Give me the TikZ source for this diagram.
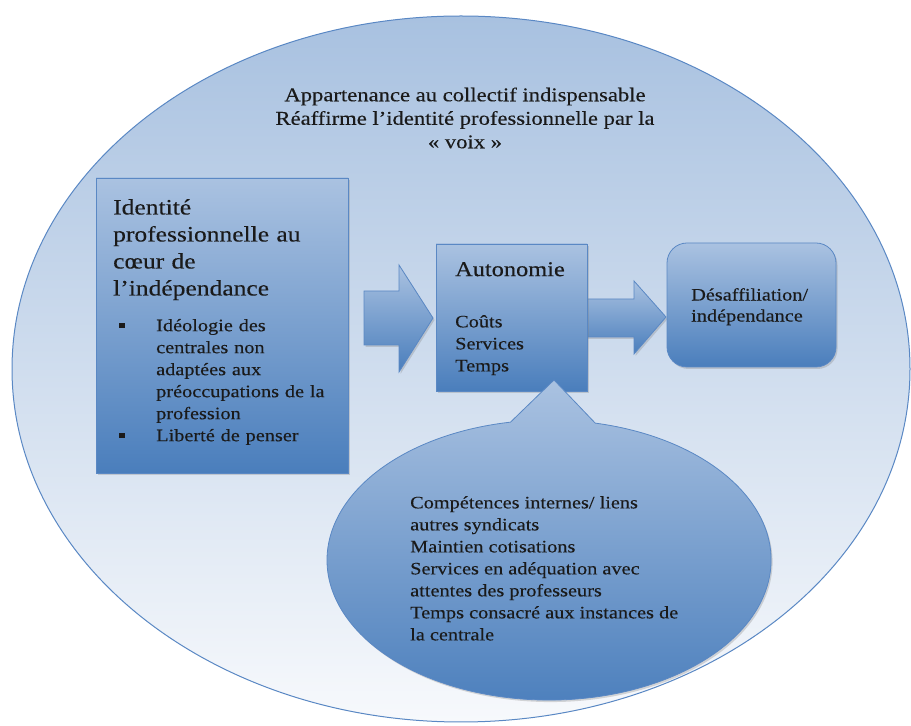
\documentclass[tikz,border=0pt]{standalone}
\usepackage{fontspec}
\setmainfont{Liberation Serif}[FakeStretch=1.16,FakeBold=0.25]
\usetikzlibrary{shapes.geometric,shadows}
\definecolor{edge}{HTML}{5A88C4}
\definecolor{boxtop}{HTML}{AAC2E1}
\definecolor{boxbot}{HTML}{4A7EBC}
\definecolor{bigtop}{HTML}{A8C1E0}
\definecolor{bigbot}{HTML}{F7F9FC}
\definecolor{ink}{HTML}{1A1A1A}
\newcommand\bitem[1]{\par\hangindent=37pt\hangafter=1\noindent\makebox[37pt][l]{\raisebox{3pt}{\rule{5.5pt}{5.5pt}}}#1}
\tikzset{
  bluebox/.style={draw=edge, line width=0.8pt, top color=boxtop, bottom color=boxbot,
    drop shadow={opacity=0.3, shadow xshift=1.5pt, shadow yshift=-2pt}},
  bigshape/.style={draw=edge, line width=1pt, top color=bigtop, bottom color=bigbot},
  txt/.style={text=ink, inner sep=0pt, align=left, anchor=north west}
}
\begin{document}
\begin{tikzpicture}[x=1pt,y=1pt]
\useasboundingbox (0,0) rectangle (911,726);
% big ellipse
\node[ellipse, bigshape, minimum width=898pt, minimum height=706pt, inner sep=0pt] (big) at (461,357) {};
\node[text=ink, inner sep=0pt, align=center, font=\fontsize{19.5}{23.5}\selectfont] (toptext) at (465,608)
  {Appartenance au collectif indispensable\\Réaffirme l’identité professionnelle par la\\« voix »};
% left box
\node[rectangle, bluebox, minimum width=252pt, minimum height=295pt, inner sep=0pt] (ident) at (222,400.5) {};
\node[txt, text width=230pt, font=\fontsize{22}{27}\selectfont] (identtitle) at (113,527)
  {Identité\\professionnelle au\\cœur de\\l’indépendance};
\node[inner sep=0pt, anchor=north west, text=ink, text width=225pt, font=\fontsize{17.5}{22}\selectfont] (identlist) at (119,417)
  {\raggedright\bitem{Idéologie des\newline centrales non\newline adaptées aux\newline préoccupations de la\newline profession}\bitem{Liberté de penser}};
% arrows
\path[bluebox] (364,435) -- (399,435) -- (399,461) -- (433,408) -- (399,354) -- (399,381) -- (364,381) -- cycle;
\path[bluebox] (560,427) -- (634,427) -- (634,445) -- (666,409) -- (634,372) -- (634,389) -- (560,389) -- cycle;
% autonomie
\node[rectangle, bluebox, minimum width=151pt, minimum height=147pt, inner sep=0pt] (auto) at (511.5,408.5) {};
\node[txt, font=\fontsize{21}{25}\selectfont] (autotitle) at (455,464) {Autonomie};
\node[txt, font=\fontsize{17.5}{22}\selectfont] (autolist) at (455,411) {Coûts\\Services\\Temps};
% desaffiliation
\node[rectangle, rounded corners=20pt, bluebox, minimum width=169pt, minimum height=124pt, inner sep=0pt] (desaff) at (751.5,421) {};
\node[txt, font=\fontsize{17.5}{21}\selectfont] (desafftext) at (691,438) {Désaffiliation/\\indépendance};
% callout
\path[bluebox] (554,346) -- (595.2,302.9) arc[start angle=78, end angle=-260, x radius=222, y radius=140] -- cycle;
\node[txt, font=\fontsize{17.5}{22}\selectfont] (callouttext) at (410,230)
  {Compétences internes/ liens\\autres syndicats\\Maintien cotisations\\Services en adéquation avec\\attentes des professeurs\\Temps consacré aux instances de\\la centrale};
\end{tikzpicture}
\end{document}
